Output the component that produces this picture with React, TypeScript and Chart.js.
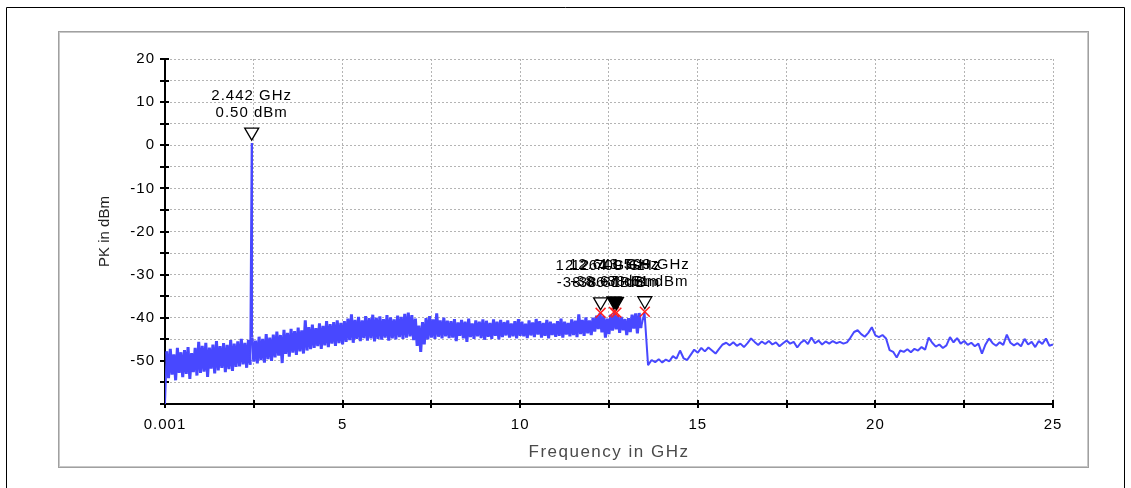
import React, { useEffect, useRef } from 'react';
import { Chart, registerables } from 'chart.js';

Chart.register(...registerables);

const CANVAS_W = 1131;
const CANVAS_H = 488;
const FONT = "'Liberation Sans', Arial, sans-serif";
const TRACE_COLOR = 'rgb(72,72,255)';
const GRID_COLOR = '#b4b4b4';

// Axis ticks
const xTickValues = [0.001, 2.5, 5, 7.5, 10, 12.5, 15, 17.5, 20, 22.5, 25];
const xTickLabels = ['0.001', '', '5', '', '10', '', '15', '', '20', '', '25'];
const yTickValues = [-60, -55, -50, -45, -40, -35, -30, -25, -20, -15, -10, -5, 0, 5, 10, 15, 20];
const yTickLabels = ['', '', '-50', '', '-40', '', '-30', '', '-20', '', '-10', '', '0', '', '10', '', '20'];

// Sweep start
const sweepStartFreq = 0.001;
const sweepStartLevel = -60;

// Carrier (GHz, dBm)
const carrierFreq = 2.442;
const carrierLevel = 0.5;

// Noisy band 0.05 .. 13.4 GHz: peak (hi) at f, trough (lo) at f + 0.05
const bandStart = 0.05;
const bandStep = 0.1;
const bandEnd = 13.45;
const bandHi = [
  -47.8, -47.2, -48.5, -47.0, -48.0, -47.5, -46.8, -48.2, -47.0, -45.6,
  -46.5, -45.8, -46.9, -46.2, -45.4, -46.6, -45.9, -46.3, -45.2, -46.0,
  -45.5, -44.9, -45.8, -45.1, -44.6, -45.3, -44.4, -44.9, -43.8, -44.6,
  -43.9, -43.2, -44.0, -42.8, -43.5, -42.6, -43.1, -42.3, -42.9, -40.6,
  -42.2, -41.6, -42.4, -41.3, -41.9, -40.8, -41.5, -41.0, -40.6, -41.2,
  -40.8, -40.2, -39.2, -40.5, -39.8, -40.6, -39.6, -40.1, -39.3, -40.0,
  -39.7, -40.3, -39.4, -39.9, -40.4, -39.5, -39.8, -39.1, -38.8, -39.4,
  -40.2, -41.8, -41.0, -40.1, -39.6, -40.4, -39.0, -40.6, -40.0, -40.7,
  -40.8, -40.3, -41.1, -40.5, -40.9, -40.2, -41.3, -40.6, -40.9, -40.4,
  -40.7, -41.2, -40.4, -40.9, -40.5, -41.0, -40.6, -41.3, -40.8, -40.3,
  -40.9, -41.4, -40.6, -41.1, -40.3, -40.8, -41.2, -40.5, -40.9, -41.3,
  -40.8, -40.2, -40.9, -41.2, -40.4, -40.7, -39.2, -40.5, -39.9, -40.6,
  -40.0, -39.5, -38.9, -39.6, -40.2, -39.3, -38.9, -39.4, -39.8, -40.3,
  -40.1, -39.3, -39.0, -38.9,
];
const bandLo = [
  -54.0, -53.2, -54.5, -52.8, -53.8, -53.0, -54.2, -52.6, -53.4, -52.8,
  -52.5, -53.7, -51.8, -52.9, -52.2, -51.6, -52.6, -51.9, -52.3, -51.4,
  -51.3, -50.8, -51.6, -50.9, -50.2, -50.6, -49.8, -50.4, -49.6, -50.0,
  -49.2, -48.8, -50.5, -48.4, -49.0, -48.1, -48.6, -47.8, -48.3, -47.6,
  -47.3, -47.0, -46.6, -47.2, -46.4, -46.8, -46.0, -46.5, -45.9, -46.2,
  -45.6, -45.2, -45.8, -44.9, -45.4, -44.7, -45.3, -44.8, -45.5, -44.9,
  -45.1, -44.6, -45.3, -44.8, -45.0, -44.5, -44.9, -44.6, -44.3, -45.2,
  -46.5, -47.9, -46.2, -45.0, -44.6, -44.9, -44.4, -44.8, -44.3, -44.7,
  -44.6, -45.4, -44.2, -44.8, -45.6, -44.5, -44.9, -44.3, -44.7, -45.1,
  -44.4, -44.9, -44.2, -45.0, -44.5, -44.1, -44.6, -44.3, -44.8, -44.2,
  -44.3, -44.7, -44.1, -44.5, -43.9, -44.6, -44.2, -44.8, -44.0, -44.4,
  -44.2, -44.6, -43.9, -44.3, -44.0, -44.5, -43.8, -44.2, -43.6, -44.0,
  -43.2, -42.6, -43.4, -44.6, -43.8, -43.0, -42.7, -43.5, -42.9, -44.0,
  -43.3, -42.5, -43.6, -42.4,
];

// Upper part of the sweep, 13.5 .. 25.0 GHz every 0.1 GHz
const tailStart = 13.5;
const tailStep = 0.1;
const tailLevels = [
  -38.7, -51.0, -49.8, -50.3, -49.6, -50.4, -49.7, -50.1, -48.9, -49.5,
  -47.6, -49.4, -49.8, -48.6, -47.4, -48.1, -47.0, -47.8, -46.9, -47.6,
  -48.3, -47.2, -46.2, -45.8, -46.4, -45.7, -46.5, -46.0, -46.8, -45.9,
  -44.8, -45.6, -46.3, -45.5, -46.1, -45.4, -46.2, -45.7, -46.6, -45.9,
  -45.3, -46.0, -45.6, -46.9, -45.8, -45.2, -46.1, -44.6, -45.9, -45.3,
  -46.2, -45.5, -46.0, -45.4, -45.9, -45.6, -46.0, -45.7, -44.6, -43.3,
  -42.9, -43.8, -44.4, -43.5, -42.2, -44.1, -44.5, -44.0, -44.8, -47.5,
  -47.9, -49.2, -47.6, -47.9, -47.3, -48.0, -47.2, -47.6, -46.8, -47.4,
  -44.6, -45.8, -46.7, -46.2, -47.0, -46.4, -44.5, -45.7, -44.7, -46.0,
  -45.4, -46.3, -45.8, -46.6, -46.0, -48.3, -46.2, -44.8, -45.9, -46.5,
  -45.7, -46.3, -43.9, -45.8, -46.4, -45.9, -46.6, -44.9, -46.2, -45.6,
  -46.8, -45.4, -46.1, -44.8, -46.5, -46.2,
];

// Markers
const markerFreqs = [2.442, 12.264, 12.641, 12.709, 13.509];
const markerLevels = [0.5, -38.86, -38.67, -38.81, -38.61];
const markerFilled = [false, false, true, true, false];
const markerCross = [false, true, true, true, true];

function buildTrace() {
  const pts: { x: number; y: number }[] = [{ x: sweepStartFreq, y: sweepStartLevel }];
  for (let i = 0; i < bandHi.length; i++) {
    pts.push({ x: +(bandStart + i * bandStep).toFixed(4), y: bandHi[i] });
    pts.push({ x: +(bandStart + i * bandStep + bandStep / 2).toFixed(4), y: bandLo[i] });
  }
  pts.push({ x: carrierFreq, y: carrierLevel });
  for (let i = 0; i < tailLevels.length; i++) {
    pts.push({ x: +(tailStart + i * tailStep).toFixed(4), y: tailLevels[i] });
  }
  pts.sort((a, b) => a.x - b.x);
  return pts;
}

const decorPlugin = {
  id: 'decor',
  beforeLayout(chart: any) {
    chart.ctx.letterSpacing = '1px';
  },
  beforeDraw(chart: any) {
    const ctx = chart.ctx as CanvasRenderingContext2D;
    ctx.save();
    ctx.strokeStyle = '#000';
    ctx.lineWidth = 1;
    ctx.beginPath();
    ctx.moveTo(6.5, CANVAS_H);
    ctx.lineTo(6.5, 7.5);
    ctx.lineTo(1124.5, 7.5);
    ctx.lineTo(1124.5, CANVAS_H);
    ctx.stroke();
    ctx.strokeStyle = '#c8c8c8';
    ctx.strokeRect(59.5, 32.5, 1028, 434);
    ctx.strokeStyle = '#a0a0a0';
    ctx.strokeRect(58.5, 31.5, 1030, 436);
    ctx.restore();
    ctx.letterSpacing = '1px';
  },
  beforeDatasetsDraw(chart: any) {
    const ctx = chart.ctx as CanvasRenderingContext2D;
    const xs = chart.scales.x;
    const ys = chart.scales.y;
    const axisY = ys.getPixelForValue(-60);
    const axisX = xs.getPixelForValue(0.001);
    ctx.save();
    ctx.strokeStyle = '#000';
    ctx.lineWidth = 2;
    ctx.beginPath();
    for (const v of xTickValues) {
      const px = Math.round(xs.getPixelForValue(v));
      ctx.moveTo(px, axisY - 4);
      ctx.lineTo(px, axisY + 4);
    }
    for (const v of yTickValues) {
      const py = Math.round(ys.getPixelForValue(v));
      ctx.moveTo(axisX - 5, py);
      ctx.lineTo(axisX + 4, py);
    }
    ctx.stroke();
    ctx.restore();
  },
  afterDatasetsDraw(chart: any) {
    const ctx = chart.ctx as CanvasRenderingContext2D;
    const xs = chart.scales.x;
    const ys = chart.scales.y;
    ctx.save();
    ctx.font = `15px ${FONT}`;
    ctx.letterSpacing = '1px';
    ctx.textAlign = 'center';
    ctx.textBaseline = 'middle';
    ctx.strokeStyle = '#000';
    ctx.lineWidth = 1.3;
    for (let i = 0; i < markerFreqs.length; i++) {
      const px = xs.getPixelForValue(markerFreqs[i]);
      const py = ys.getPixelForValue(markerLevels[i]);
      const apex = py - 3;
      ctx.beginPath();
      ctx.moveTo(px, apex);
      ctx.lineTo(px - 7, apex - 12);
      ctx.lineTo(px + 7, apex - 12);
      ctx.closePath();
      ctx.fillStyle = markerFilled[i] ? '#000' : '#fff';
      ctx.fill();
      ctx.stroke();
    }
    ctx.fillStyle = '#000';
    for (let i = 0; i < markerFreqs.length; i++) {
      const px = xs.getPixelForValue(markerFreqs[i]);
      const py = ys.getPixelForValue(markerLevels[i]);
      ctx.fillText(`${markerFreqs[i].toFixed(3)} GHz`, px, py - 47);
      ctx.fillText(`${markerLevels[i].toFixed(2)} dBm`, px, py - 30);
    }
    ctx.restore();
  },
  afterDraw(chart: any) {
    const ctx = chart.ctx as CanvasRenderingContext2D;
    const area = chart.chartArea;
    ctx.save();
    ctx.textAlign = 'center';
    ctx.textBaseline = 'middle';
    ctx.fillStyle = '#4a4a4a';
    ctx.font = `17px ${FONT}`;
    ctx.letterSpacing = '1.5px';
    ctx.fillText('Frequency in GHz', (area.left + area.right) / 2, 452);
    ctx.translate(105, (area.top + area.bottom) / 2);
    ctx.rotate(-Math.PI / 2);
    ctx.fillStyle = '#222';
    ctx.font = `15px ${FONT}`;
    ctx.letterSpacing = '0px';
    ctx.fillText('PK in dBm', 0, 0);
    ctx.restore();
    ctx.letterSpacing = '1px';
  },
};

export default function App() {
  const ref = useRef<HTMLCanvasElement | null>(null);
  useEffect(() => {
    const canvas = ref.current;
    if (!canvas) return;
    const trace = buildTrace();
    const crossPts = markerFreqs
      .map((f, i) => ({ x: f, y: markerLevels[i], show: markerCross[i] }))
      .filter((p) => p.show)
      .map((p) => ({ x: p.x, y: p.y }));
    const chart = new Chart(canvas, {
      type: 'scatter',
      data: {
        datasets: [
          {
            label: 'Peaks',
            data: crossPts,
            showLine: false,
            pointStyle: 'crossRot',
            pointRadius: 7,
            pointHoverRadius: 7,
            borderColor: '#ff2020',
            backgroundColor: '#ff2020',
            borderWidth: 1.5,
            order: 0,
          },
          {
            label: 'PK',
            data: trace,
            showLine: true,
            borderColor: TRACE_COLOR,
            backgroundColor: TRACE_COLOR,
            borderWidth: 2,
            borderJoinStyle: 'bevel',
            pointRadius: 0,
            pointHoverRadius: 0,
            tension: 0,
            order: 1,
            segment: {
              borderWidth: (c: any) =>
                c.p0.parsed.x > 0.01 && c.p1.parsed.x <= bandEnd && c.p1.parsed.y < -20 && c.p0.parsed.y < -20 ? 3 : 2,
            },
          },
        ],
      },
      options: {
        responsive: false,
        animation: false,
        devicePixelRatio: 1,
        events: [],
        layout: { padding: { left: 105, right: 78, top: 59, bottom: 44 } },
        plugins: {
          legend: { display: false },
          tooltip: { enabled: false },
          title: { display: false },
        },
        scales: {
          x: {
            type: 'linear',
            position: 'bottom',
            min: 0.001,
            max: 25,
            afterBuildTicks: (s: any) => {
              s.ticks = xTickValues.map((v) => ({ value: v }));
            },
            afterFit: (s: any) => {
              s.height = 40;
            },
            ticks: {
              autoSkip: false,
              maxRotation: 0,
              minRotation: 0,
              padding: 12,
              color: '#000',
              font: { family: FONT, size: 15 },
              callback: (_v: any, i: number) => xTickLabels[i],
            },
            grid: {
              color: (c: any) => (c.tick && c.tick.value <= 0.001 ? 'rgba(0,0,0,0)' : GRID_COLOR),
              lineWidth: 1,
              drawTicks: false,
            },
            border: { display: true, color: '#000', width: 2, dash: [2, 2] },
          },
          y: {
            type: 'linear',
            position: 'left',
            min: -60,
            max: 20,
            afterBuildTicks: (s: any) => {
              s.ticks = yTickValues.map((v) => ({ value: v }));
            },
            afterFit: (s: any) => {
              s.width = 60;
            },
            ticks: {
              autoSkip: false,
              padding: 10,
              color: '#000',
              font: { family: FONT, size: 15 },
              callback: (_v: any, i: number) => yTickLabels[i],
            },
            grid: {
              color: (c: any) => (c.tick && c.tick.value <= -60 ? 'rgba(0,0,0,0)' : GRID_COLOR),
              lineWidth: 1,
              drawTicks: false,
            },
            border: { display: true, color: '#000', width: 2, dash: [2, 2] },
          },
        },
      },
      plugins: [decorPlugin],
    } as any);
    return () => chart.destroy();
  }, []);
  return (
    <div style={{ position: 'absolute', left: 0, top: 0, width: CANVAS_W, height: CANVAS_H, background: '#fff' }}>
      <canvas ref={ref} width={CANVAS_W} height={CANVAS_H} style={{ display: 'block' }} />
    </div>
  );
}
